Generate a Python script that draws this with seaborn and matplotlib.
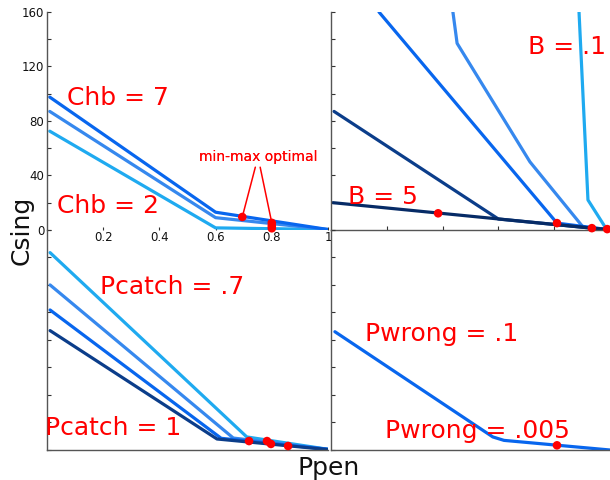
import matplotlib
matplotlib.use("Agg")
import matplotlib.pyplot as plt
import seaborn as sns

# ---- Chb panel (top left) ----
ppen_chb = [0.01, 0.6, 1.0]
csing_chb7 = [97.5, 13.0, 0.3]
csing_chb_mid = [87.0, 9.0, 0.3]
csing_chb2 = [72.5, 1.5, 0.3]
opt_chb_x = [0.695, 0.80, 0.80, 0.80]
opt_chb_y = [9.5, 5.2, 3.0, 1.2]

# ---- B panel (top right) ----
ppen_b5 = [0.007, 1.0]
csing_b5 = [20.0, 0.0]
ppen_b2 = [0.011, 0.6, 1.0]
csing_b2 = [87.0, 8.0, 0.0]
ppen_b1 = [0.172, 0.81, 0.99]
csing_b1 = [160.0, 5.0, 0.3]
ppen_b05 = [0.437, 0.452, 0.713, 0.903, 0.99]
csing_b05 = [160.0, 137.0, 50.0, 2.2, 0.3]
ppen_b01 = [0.889, 0.921, 0.986]
csing_b01 = [160.0, 22.0, 1.0]
opt_b_x = [0.384, 0.81, 0.935, 0.99]
opt_b_y = [12.2, 5.0, 1.3, 0.6]

# ---- Pcatch panel (bottom left) ----
ppen_pc07 = [0.011, 0.711, 1.0]
csing_pc07 = [143.5, 9.5, 0.5]
ppen_pc08 = [0.011, 0.663, 1.0]
csing_pc08 = [120.0, 8.7, 0.5]
ppen_pc09 = [0.011, 0.62, 1.0]
csing_pc09 = [101.8, 8.5, 0.5]
ppen_pc1 = [0.011, 0.605, 1.0]
csing_pc1 = [86.8, 8.0, 0.3]
opt_pc_x = [0.719, 0.783, 0.797, 0.858]
opt_pc_y = [6.5, 6.5, 4.4, 2.9]

# ---- Pwrong panel (bottom right) ----
ppen_pw = [0.014, 0.58, 0.62, 1.0]
csing_pw = [86.0, 9.5, 7.0, 0.0]
opt_pw_x = [0.81]
opt_pw_y = [3.4]

# axis ticks
y_ticks = [0, 20, 40, 60, 80, 100, 120, 140, 160]
y_tick_labels = ["0", "", "40", "", "80", "", "120", "", "160"]
x_ticks = [0.2, 0.4, 0.6, 0.8, 1.0]
x_tick_labels = ["0.2", "0.4", "0.6", "0.8", "1"]

sns.set_theme(style="white")
plt.rcParams["font.family"] = ["DejaVu Sans"]

NAVY_DARK = "#062b66"
NAVY = "#0b3d8a"
BLUE = "#0866ee"
MID = "#3688ee"
CYAN = "#1faaf0"
RED = "#ff0000"
SPINE = "#555555"
LW = 2.3

fig = plt.figure(figsize=(6.1, 4.8), dpi=100)
ax_tl = fig.add_axes([0.077, 0.521, 0.4607, 0.454])
ax_tr = fig.add_axes([0.5426, 0.521, 0.4574, 0.454])
ax_bl = fig.add_axes([0.077, 0.0625, 0.4607, 0.4585])
ax_br = fig.add_axes([0.5426, 0.0625, 0.4574, 0.4585])


def style_axes(ax, bottom_spine=True):
    ax.set_xlim(0, 1)
    ax.set_ylim(0, 160)
    ax.set_facecolor("none")
    for side in ("top", "right"):
        ax.spines[side].set_visible(False)
    ax.spines["bottom"].set_visible(bottom_spine)
    for side in ("left", "bottom"):
        ax.spines[side].set_color(SPINE)
        ax.spines[side].set_linewidth(1.0)
    ax.set_yticks(y_ticks)
    ax.set_yticklabels([""] * len(y_ticks))
    ax.tick_params(axis="both", direction="in", length=3, width=0.8,
                   color="#333333", labelsize=8.5, labelcolor="#111111",
                   left=True, bottom=True, pad=2)
    ax.set_xlabel("")
    ax.set_ylabel("")


def line(ax, xs, ys, color):
    sns.lineplot(x=xs, y=ys, ax=ax, color=color, lw=LW, sort=False,
                 estimator=None, legend=False)


def optima(ax, xs, ys):
    sns.scatterplot(x=xs, y=ys, ax=ax, color=RED, s=38, edgecolor="none",
                    zorder=5, clip_on=False, legend=False)


# top left: Chb
line(ax_tl, ppen_chb, csing_chb2, CYAN)
line(ax_tl, ppen_chb, csing_chb_mid, MID)
line(ax_tl, ppen_chb, csing_chb7, BLUE)
optima(ax_tl, opt_chb_x, opt_chb_y)
style_axes(ax_tl, bottom_spine=False)
ax_tl.set_yticklabels(y_tick_labels)
ax_tl.set_xticks(x_ticks)
ax_tl.set_xticklabels(x_tick_labels)
ax_tl.tick_params(axis="x", length=2, pad=1)
for xy in [(opt_chb_x[0], opt_chb_y[0]), (opt_chb_x[1], opt_chb_y[1])]:
    ax_tl.annotate("min-max optimal", xy=xy, xytext=(0.751, 53.6),
                   ha="center", va="center", fontsize=10, color=RED,
                   arrowprops=dict(arrowstyle="-", color=RED, lw=1.1,
                                   shrinkA=0, shrinkB=0))
ax_tl.text(0.071, 97, "Chb = 7", color=RED, fontsize=18, ha="left", va="center")
ax_tl.text(0.036, 17.6, "Chb = 2", color=RED, fontsize=18, ha="left", va="center")

# top right: B
line(ax_tr, ppen_b01, csing_b01, CYAN)
line(ax_tr, ppen_b05, csing_b05, MID)
line(ax_tr, ppen_b1, csing_b1, BLUE)
line(ax_tr, ppen_b2, csing_b2, NAVY)
line(ax_tr, ppen_b5, csing_b5, NAVY_DARK)
optima(ax_tr, opt_b_x, opt_b_y)
style_axes(ax_tr)
ax_tr.set_xticks([0.2, 0.4, 0.6, 0.8])
ax_tr.set_xticklabels([""] * 4)
ax_tr.text(0.706, 134, "B = .1", color=RED, fontsize=18, ha="left", va="center")
ax_tr.text(0.061, 24, "B = 5", color=RED, fontsize=18, ha="left", va="center")

# bottom left: Pcatch
line(ax_bl, ppen_pc07, csing_pc07, CYAN)
line(ax_bl, ppen_pc08, csing_pc08, MID)
line(ax_bl, ppen_pc09, csing_pc09, BLUE)
line(ax_bl, ppen_pc1, csing_pc1, NAVY)
optima(ax_bl, opt_pc_x, opt_pc_y)
style_axes(ax_bl)
ax_bl.set_xticks([])
ax_bl.text(0.189, 118.5, "Pcatch = .7", color=RED, fontsize=18, ha="left", va="center")
ax_bl.text(-0.007, 16, "Pcatch = 1", color=RED, fontsize=18, ha="left", va="center")

# bottom right: Pwrong
line(ax_br, ppen_pw, csing_pw, BLUE)
optima(ax_br, opt_pw_x, opt_pw_y)
style_axes(ax_br)
ax_br.set_xticks([])
ax_br.text(0.122, 84, "Pwrong = .1", color=RED, fontsize=18, ha="left", va="center")
ax_br.text(0.194, 14, "Pwrong = .005", color=RED, fontsize=18, ha="left", va="center")

# shared axis titles
fig.text(0.538, 0.011, "Ppen", fontsize=18, ha="center", va="baseline", color="#111111")
fig.text(0.036, 0.521, "Csing", fontsize=18, rotation=90, ha="center", va="center",
         color="#111111")

fig.savefig("out.png", dpi=100)
